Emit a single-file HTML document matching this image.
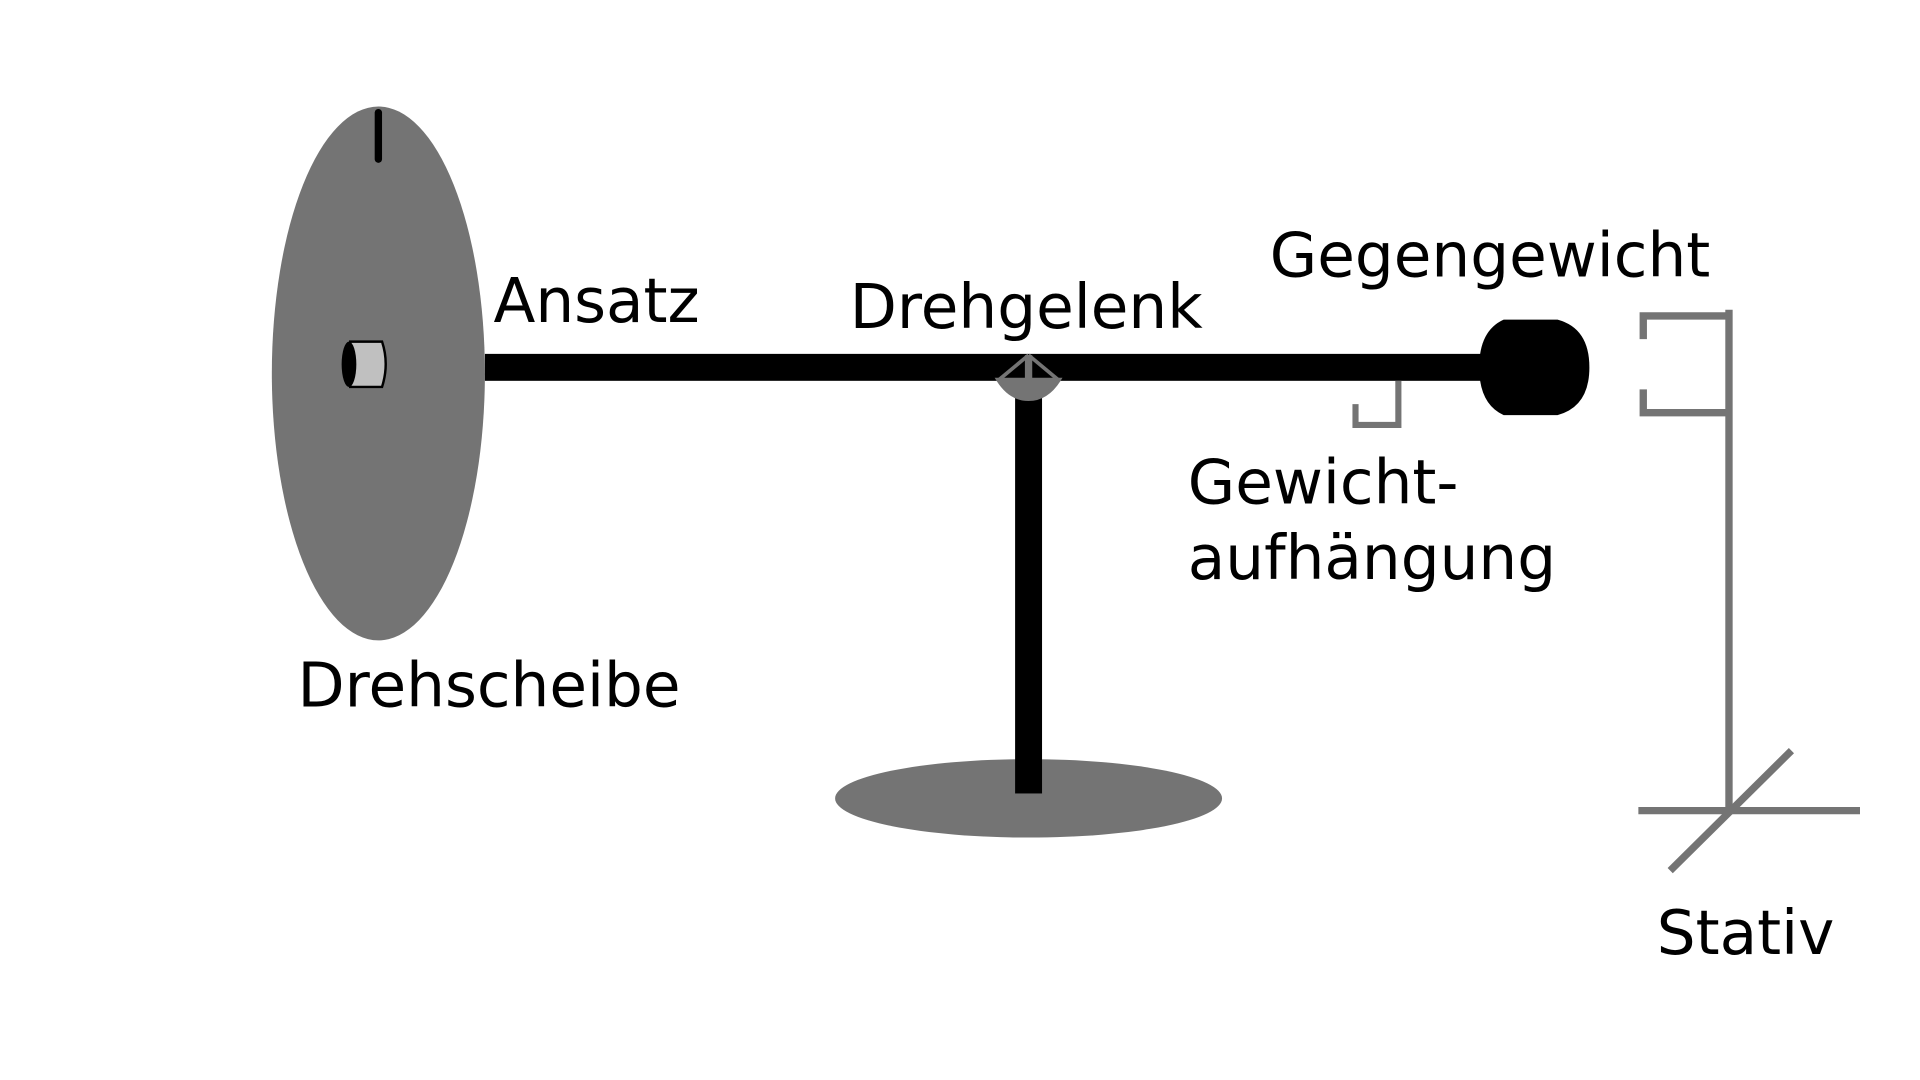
<!DOCTYPE html>
<html><head><meta charset="utf-8"><style>
html,body{margin:0;padding:0;background:#fff;width:1920px;height:1080px;overflow:hidden}
svg{display:block}
text{font-family:"DejaVu Sans","Liberation Sans",sans-serif;font-size:50px;fill:#000}
</style></head><body>
<svg width="1920" height="1080" viewBox="0 0 1568 882" xmlns="http://www.w3.org/2000/svg">
 <g>
  <ellipse cx="309" cy="305" rx="87" ry="218" fill="#747474"/>
  <line x1="309" y1="92" x2="309" y2="130" stroke="#000" stroke-width="6" stroke-linecap="round"/>
  <path d="M286,279 L312,279 Q318,297 312,316 L286,316 Z" fill="#c0c0c0" stroke="#000" stroke-width="2"/>
  <ellipse cx="285" cy="297.5" rx="6" ry="18.5" fill="#000"/>
 </g>
 <ellipse cx="840" cy="652" rx="158" ry="32" fill="#747474"/>
 <rect x="396" y="289" width="818" height="22" fill="#000"/>
 <rect x="829" y="318" width="22" height="330" fill="#000"/>
 <g stroke="#747474" fill="none" stroke-width="3">
  <path d="M815,310 L865,310 Q855,326 840,326 Q825,326 815,310 Z" fill="#747474"/>
  <line x1="840" y1="290" x2="840" y2="310" stroke-width="6"/>
  <line x1="840" y1="290" x2="816" y2="310"/>
  <line x1="840" y1="290" x2="864" y2="310"/>
 </g>
 <path d="M1228,261 L1272,261 Q1298,268 1298,300 Q1298,332 1272,339 L1228,339 Q1208,330 1208,300 Q1208,270 1228,261 Z" fill="#000"/>
 <path d="M1107,330 L1107,347 L1142,347 L1142,311" fill="none" stroke="#747474" stroke-width="5"/>
 <g stroke="#747474" stroke-width="6" fill="none">
  <line x1="1412" y1="253" x2="1412" y2="662"/>
  <path d="M1342,277 L1342,258 L1412,258"/>
  <path d="M1342,318 L1342,337 L1412,337"/>
  <line x1="1338" y1="662" x2="1519" y2="662"/>
  <line x1="1364" y1="711" x2="1463" y2="613"/>
 </g>
 <text x="403" y="263">Ansatz</text>
 <text x="694" y="268">Drehgelenk</text>
 <text x="1037" y="226">Gegengewicht</text>
 <text x="970" y="411">Gewicht-</text>
 <text x="970" y="473">aufhängung</text>
 <text x="243" y="577">Drehscheibe</text>
 <text x="1353" y="779">Stativ</text>
</svg>
</body></html>
